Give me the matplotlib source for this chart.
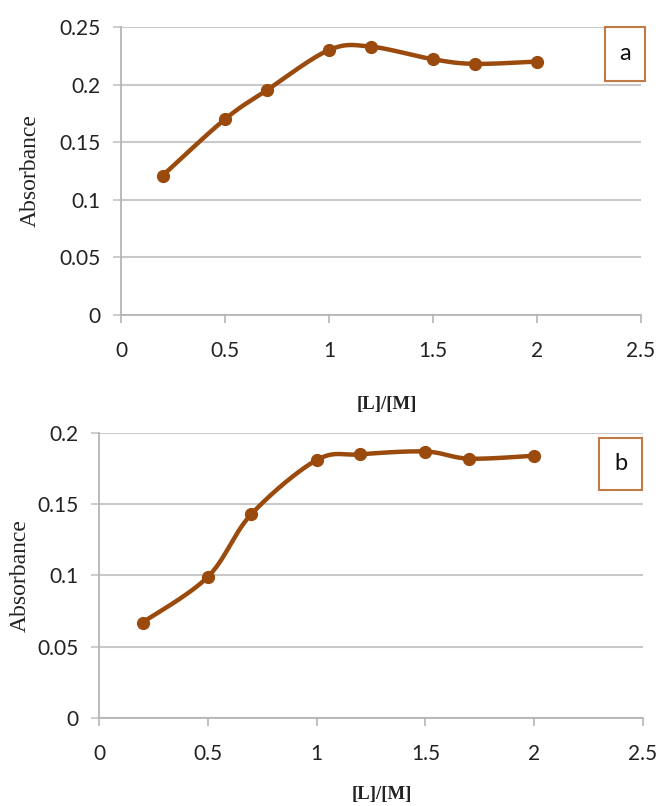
import numpy as np
import matplotlib
matplotlib.use("Agg")
import matplotlib.pyplot as plt
from matplotlib.patches import Rectangle

# ------------------- Data -------------------
ratio = [0.2, 0.5, 0.7, 1.0, 1.2, 1.5, 1.7, 2.0]
absorb_a = [0.121, 0.170, 0.195, 0.230, 0.233, 0.222, 0.218, 0.220]
absorb_b = [0.067, 0.099, 0.143, 0.181, 0.185, 0.187, 0.182, 0.184]
xticks = [0, 0.5, 1, 1.5, 2, 2.5]
yticks_a = [0, 0.05, 0.1, 0.15, 0.2, 0.25]
yticks_b = [0, 0.05, 0.1, 0.15, 0.2]

LINE_COLOR = "#9a4a0c"
BOX_COLOR = "#c07a45"
GRID_COLOR = "#c9c9c9"
TICK_FONT = "Lato"
LABEL_FONT = "Liberation Serif"


def smooth(x, y, n=30):
    """Excel-like smoothed line (Bezier through the points)"""
    p = np.column_stack([x, y]).astype(float)
    ext = np.vstack([p[0], p, p[-1]])
    out = []
    t = np.linspace(0, 1, n)[:, None]
    for i in range(len(p) - 1):
        p0, p1 = ext[i + 1], ext[i + 2]
        c1 = p0 + (ext[i + 2] - ext[i]) / 6
        c2 = p1 - (ext[i + 3] - ext[i + 1]) / 6
        seg = ((1 - t) ** 3) * p0 + 3 * ((1 - t) ** 2) * t * c1 + 3 * (1 - t) * t ** 2 * c2 + t ** 3 * p1
        out.append(seg if i == 0 else seg[1:])
    out = np.vstack(out)
    return out[:, 0], out[:, 1]


def draw_panel(ax, y, yticks, ymax, ylab_x, xlab_pos):
    sx, sy = smooth(ratio, y)
    ax.plot(sx, sy, color=LINE_COLOR, lw=3.2, solid_capstyle="round", zorder=3)
    ax.plot(ratio, y, "o", color=LINE_COLOR, ms=8.5, zorder=4)
    ax.set_xlim(0, 2.5)
    ax.set_ylim(0, ymax)
    ax.set_xticks(xticks)
    ax.set_xticklabels([f"{v:g}" for v in xticks], fontfamily=TICK_FONT, fontsize=15)
    ax.set_yticks(yticks)
    ax.set_yticklabels([f"{v:g}" for v in yticks], fontfamily=TICK_FONT, fontsize=15)
    ax.grid(axis="y", color=GRID_COLOR, lw=1.5)
    ax.set_axisbelow(True)
    for s in ["top", "right"]:
        ax.spines[s].set_visible(False)
    for s in ["left", "bottom"]:
        ax.spines[s].set_color("#b5b5b5")
        ax.spines[s].set_linewidth(1.3)
    ax.tick_params(axis="x", direction="out", length=6, width=1.2, color="#b5b5b5",
                   pad=13, labelcolor="#222222")
    ax.tick_params(axis="y", direction="out", length=6, width=1.3, color=GRID_COLOR,
                   pad=9, labelcolor="#222222")
    ax.set_ylabel("Absorbance", fontfamily=LABEL_FONT, fontsize=17, color="#222222")
    ax.yaxis.set_label_coords(ylab_x, 0.5)
    ax.set_xlabel("[L]/[M]", fontfamily=LABEL_FONT, fontsize=13.5, fontweight="bold",
                  color="#222222", va="center")
    ax.xaxis.set_label_coords(*xlab_pos)


def label_box(fig, x0, y0, x1, y1, text):
    W, H = 659, 806
    fig.add_artist(Rectangle((x0 / W, 1 - y1 / H), (x1 - x0) / W, (y1 - y0) / H,
                             transform=fig.transFigure, fill=False,
                             edgecolor=BOX_COLOR, lw=1.5))
    fig.text((x0 + x1) / 2 / W, 1 - (y0 + y1) / 2 / H, text, ha="center", va="center",
             fontfamily=TICK_FONT, fontsize=17, color="#111111")


fig = plt.figure(figsize=(6.59, 8.06), dpi=100)
ax_a = fig.add_axes([0.1836, 0.6092, 0.7891, 0.3573])
ax_b = fig.add_axes([0.1502, 0.1092, 0.8255, 0.3536])

draw_panel(ax_a, absorb_a, yticks_a, 0.25, -0.155, (0.512, -0.3125))
draw_panel(ax_b, absorb_b, yticks_b, 0.2, -0.125, (0.52, -0.27))

label_box(fig, 605, 27, 645, 81, "a")
label_box(fig, 599, 438, 642, 490, "b")

fig.savefig("out.png", dpi=100)
